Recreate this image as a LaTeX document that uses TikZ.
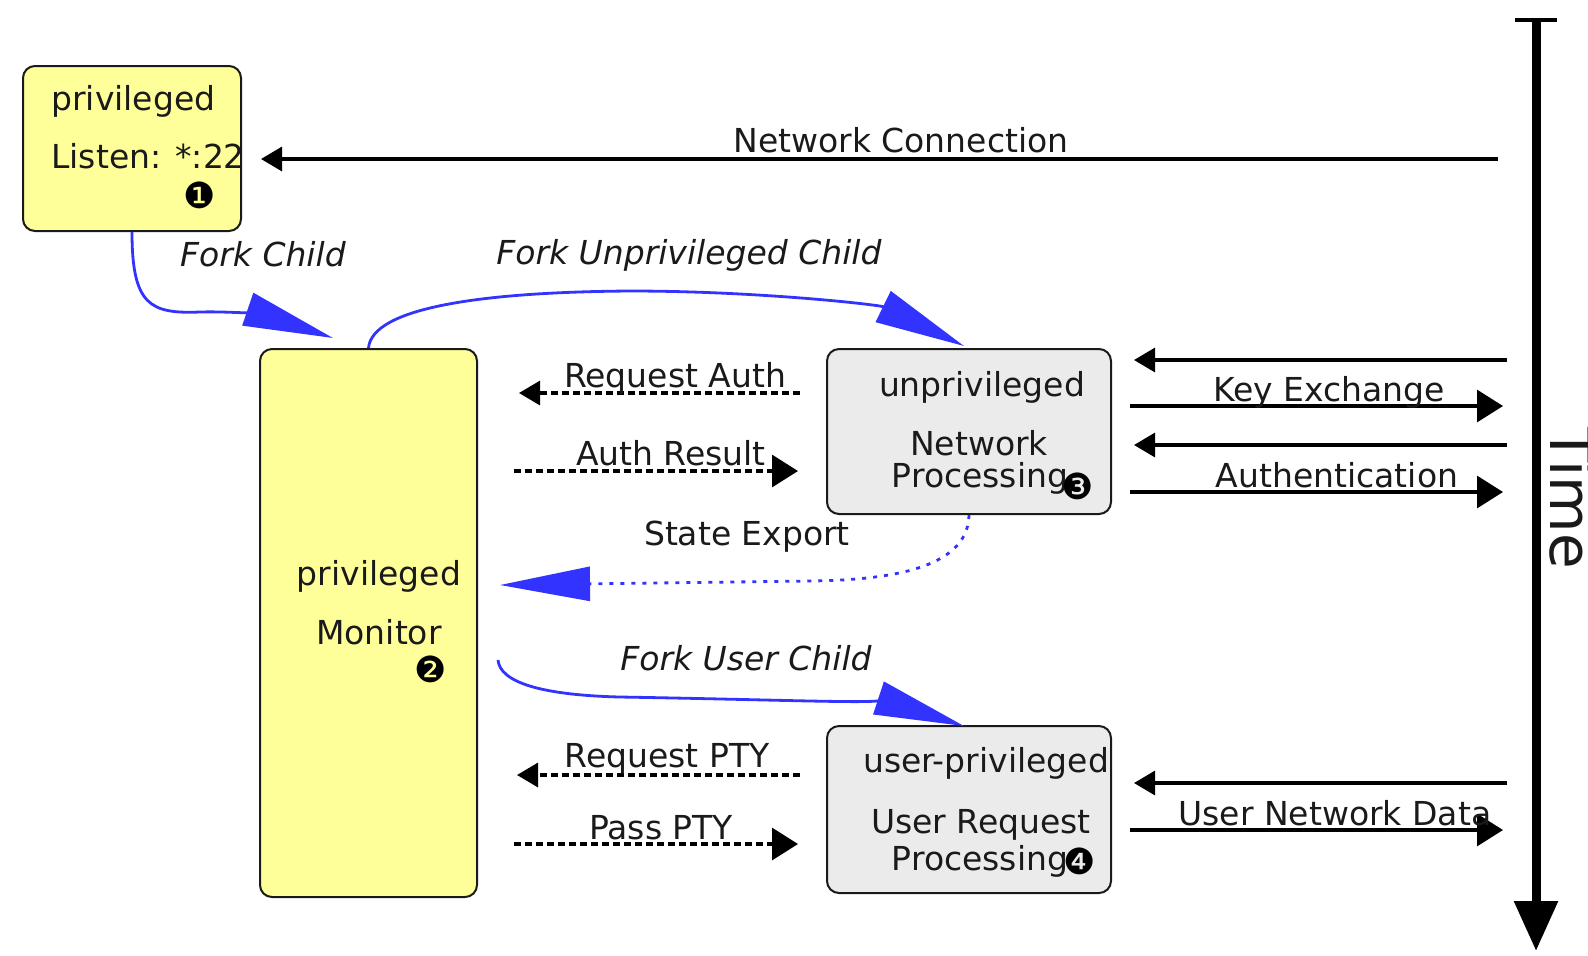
\documentclass[tikz,border=0pt]{standalone}
\usepackage{fontspec}
\setmainfont{DejaVu Sans}
\usetikzlibrary{arrows.meta}
\definecolor{boxyellow}{RGB}{255,255,153}
\definecolor{boxgray}{RGB}{235,235,235}
\definecolor{forkblue}{RGB}{51,51,255}
\definecolor{inkc}{RGB}{26,26,26}
\begin{document}
\begin{tikzpicture}[x=0.5pt,y=-0.5pt,
  font=\fontsize{16.5}{20}\selectfont,
  procbox/.style={draw=inkc, line width=1pt, rounded corners=6pt, inner sep=0pt},
  txt/.style={anchor=base, inner sep=0pt, text=inkc},
  itl/.style={txt, font=\fontsize{16.5}{20}\selectfont\itshape},
  num/.style={inner sep=0pt, anchor=center, font=\fontsize{18}{18}\selectfont},
  msg/.style={draw=black, line width=1.6pt},
  msgL/.style={msg, -{Triangle[length=10.5pt,width=12pt]}},
  msgR/.style={msg, -{Triangle[length=13pt,width=16pt]}},
  ipc/.style={dash pattern=on 3.5pt off 2pt},
  fork/.style={draw=forkblue, line width=1.4pt, -{Triangle[length=45pt,width=17pt]}},
  forkdot/.style={fork, dash pattern=on 2pt off 3.5pt}
]
\useasboundingbox (0,0) rectangle (1588,955);

% boxes
\node[procbox, fill=boxyellow, minimum width=109pt, minimum height=82.5pt] (listen) at (132,148.5) {};
\node[procbox, fill=boxyellow, minimum width=108.5pt, minimum height=274pt] (mon) at (368.5,623) {};
\node[procbox, fill=boxgray, minimum width=142pt, minimum height=82.5pt] (unpriv) at (969,431.5) {};
\node[procbox, fill=boxgray, minimum width=142pt, minimum height=83.5pt] (user) at (969,809.5) {};

% box texts
\node[txt, anchor=base west] (t1a) at (51,110) {privileged};
\node[txt, anchor=base west] (t1b) at (51,168) {Listen: *:22};
\node[num] (n1) at (200,195) {❶};
\node[txt] (t2a) at (379,585) {privileged};
\node[txt] (t2b) at (379,644) {Monitor};
\node[num] (n2) at (431,669) {❷};
\node[txt] (t3a) at (982,396) {unprivileged};
\node[txt] (t3b) at (979,455) {Network};
\node[txt] (t3c) at (980,487) {Processing};
\node[num] (n3) at (1078,486) {❸};
\node[txt] (t4a) at (986,772) {user-privileged};
\node[txt] (t4b) at (981,833) {User Request};
\node[txt] (t4c) at (980,870) {Processing};
\node[num] (n4) at (1080,861) {❹};

% coordinates
\coordinate (ncS) at (1498,159); \coordinate (ncE) at (261,159);
\coordinate (tTop) at (1536,20); \coordinate (tBot) at (1536,951);
\coordinate (tkL) at (1515,20); \coordinate (tkR) at (1557,20);
\coordinate (keLs) at (1507,360); \coordinate (keLe) at (1134,360);
\coordinate (keRs) at (1130,406); \coordinate (keRe) at (1503,406);
\coordinate (auLs) at (1507,445); \coordinate (auLe) at (1134,445);
\coordinate (auRs) at (1130,492); \coordinate (auRe) at (1503,492);
\coordinate (udLs) at (1507,783); \coordinate (udLe) at (1134,783);
\coordinate (udRs) at (1130,830); \coordinate (udRe) at (1503,830);
\coordinate (raS) at (800,393); \coordinate (raE) at (519,393);
\coordinate (arS) at (514,471); \coordinate (arE) at (798,471);
\coordinate (rpS) at (800,775); \coordinate (rpE) at (517,775);
\coordinate (ppS) at (514,844); \coordinate (ppE) at (798,844);
\coordinate (fcE) at (333,338);
\coordinate (fuE) at (964,346);
\coordinate (seE) at (500,585);
\coordinate (fuS) at (498,660);
\coordinate (fuuE) at (964,726);

% time axis
\draw[line width=2pt] (tkL) -- (tkR);
\draw[line width=4.5pt, -{Triangle[length=25pt,width=21pt]}] (tTop) -- (tBot);
\node[rotate=-90, anchor=base, inner sep=0pt, text=inkc, font=\fontsize{29}{30}\selectfont] (timelbl) at (1550,498) {Time};

% network messages
\draw[msgL] (ncS) -- (ncE);
\node[txt] (lNC) at (901,152) {Network Connection};
\draw[msgL] (keLs) -- (keLe);
\draw[msgR] (keRs) -- (keRe);
\node[txt] (lKE) at (1329,401) {Key Exchange};
\draw[msgL] (auLs) -- (auLe);
\draw[msgR] (auRs) -- (auRe);
\node[txt] (lAU) at (1337,487) {Authentication};
\draw[msgL] (udLs) -- (udLe);
\draw[msgR] (udRs) -- (udRe);
\node[txt] (lUD) at (1335,825) {User Network Data};

% monitor ipc
\draw[msgL, ipc] (raS) -- (raE);
\node[txt] (lRA) at (675,387) {Request Auth};
\draw[msgR, ipc] (arS) -- (arE);
\node[txt] (lAR) at (671,465) {Auth Result};
\draw[msgL, ipc] (rpS) -- (rpE);
\node[txt] (lRP) at (667,767) {Request PTY};
\draw[msgR, ipc] (ppS) -- (ppE);
\node[txt] (lPP) at (661,839) {Pass PTY};

% forks
\draw[fork] (listen.south) .. controls (132,305) and (150,314) .. (200,312) .. controls (235,311) and (268,316) .. (fcE);
\node[itl] (lFC) at (263,266) {Fork Child};
\draw[fork] (mon.north) .. controls (372,308) and (480,292) .. (630,291) .. controls (760,291) and (880,305) .. (fuE);
\node[itl] (lFU) at (689,264) {Fork Unprivileged Child};
\draw[forkdot] (unpriv.south) .. controls (968,565) and (900,580) .. (810,581) -- (seE);
\node[txt] (lSE) at (747,545) {State Export};
\draw[fork] (fuS) .. controls (500,682) and (540,695) .. (620,697) .. controls (800,700) and (900,705) .. (fuuE);
\node[itl] (lFUC) at (746,670) {Fork User Child};
\end{tikzpicture}
\end{document}
